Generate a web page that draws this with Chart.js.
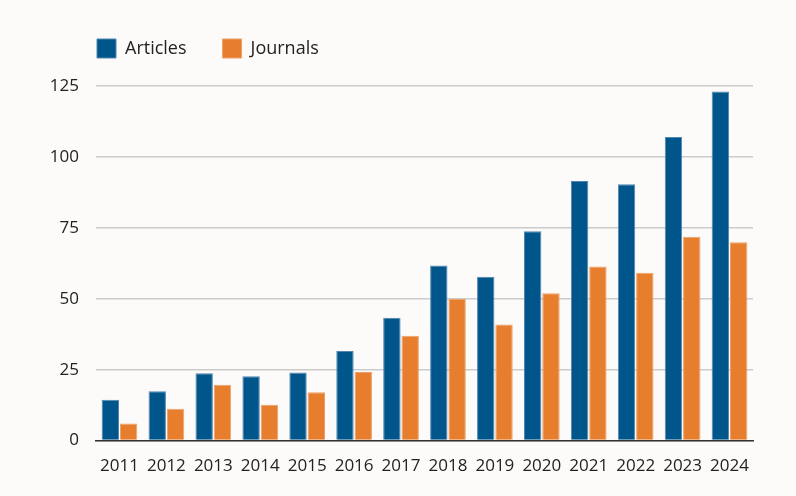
<!DOCTYPE html>
<html>
<head>
<meta charset="utf-8">
<script src="https://cdn.jsdelivr.net/npm/chart.js@4.4.1/dist/chart.umd.min.js"></script>
<style>
  html, body { margin: 0; padding: 0; background: #fcfbfa; }
  #wrap { width: 796px; height: 496px; }
</style>
</head>
<body>
<div id="wrap"><canvas id="grafico" width="796" height="496"></canvas></div>
<script>
const years = ['2011', '2012', '2013', '2014', '2015', '2016', '2017', '2018', '2019', '2020', '2021', '2022', '2023', '2024'];
const articles = [14.4, 17.4, 23.7, 22.7, 24.0, 31.6, 43.3, 61.7, 57.8, 73.8, 91.5, 90.4, 107.0, 123.1];
const journals = [6.0, 11.2, 19.7, 12.6, 17.0, 24.2, 37.0, 49.9, 40.9, 51.9, 61.4, 59.2, 71.9, 69.9];
const yTicks = [0, 25, 50, 75, 100, 125];

const fontFamily = '"Open Sans", "Noto Sans", sans-serif';

// legend: fixed height, and start it at the left edge of the plot
const legendShift = {
    id: 'legendShift',
    beforeLayout(chart) {
        const lg = chart.legend;
        if (lg && !lg._fixedFit) {
            const fit = lg.fit.bind(lg);
            lg.fit = function() {
                fit();
                this.height = 83;
            };
            lg._fixedFit = true;
        }
    },
    afterLayout(chart) {
        const lg = chart.legend;
        const dx = chart.chartArea.left + 1 - (lg.left + lg.options.labels.padding);
        lg.left += dx;
        lg.right += dx;
    }
};

const ctx = document.getElementById('grafico').getContext('2d');
new Chart(ctx, {
    type: 'bar',
    data: {
        labels: years,
        datasets: [
            {
                label: 'Articles',
                data: articles,
                backgroundColor: '#00568b',
                borderColor: '#4f86b2',
                borderWidth: 1,
                categoryPercentage: 0.78,
                barPercentage: 0.95
            },
            {
                label: 'Journals',
                data: journals,
                backgroundColor: '#e67e2e',
                borderColor: '#eda069',
                borderWidth: 1,
                categoryPercentage: 0.78,
                barPercentage: 0.95
            }
        ]
    },
    options: {
        responsive: false,
        animation: false,
        layout: {
            padding: { top: 3, right: 43, bottom: 13, left: 40 }
        },
        plugins: {
            legend: {
                position: 'top',
                align: 'start',
                labels: {
                    boxWidth: 19,
                    boxHeight: 19,
                    padding: 36,
                    color: '#222',
                    font: { family: fontFamily, size: 18 }
                }
            },
            tooltip: { enabled: false }
        },
        scales: {
            x: {
                grid: { display: false },
                border: { display: true, color: '#333', width: 1.5 },
                ticks: {
                    color: '#222',
                    padding: 7,
                    maxRotation: 0,
                    font: { family: fontFamily, size: 17 }
                }
            },
            y: {
                min: 0,
                max: 125,
                afterBuildTicks(scale) {
                    scale.ticks = yTicks.map(v => ({ value: v }));
                },
                afterFit(scale) {
                    scale.width = 56;
                },
                grid: {
                    color: '#cccccc',
                    lineWidth: 1.5,
                    drawTicks: false
                },
                border: { display: false },
                ticks: {
                    color: '#222',
                    padding: 17,
                    font: { family: fontFamily, size: 17 }
                }
            }
        }
    },
    plugins: [legendShift]
});
</script>
</body>
</html>
